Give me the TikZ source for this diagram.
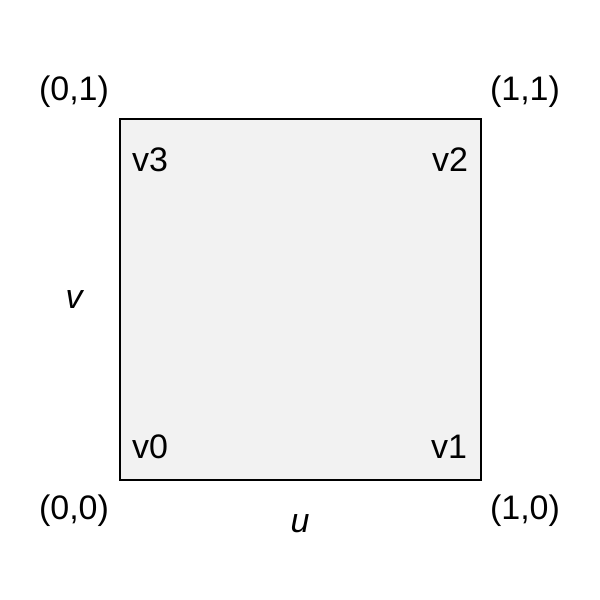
\documentclass[tikz,border=0pt]{standalone}
\usepackage{fontspec}
\setmainfont{Liberation Sans}
\definecolor{patchfill}{HTML}{F2F2F2}
\begin{document}
\begin{tikzpicture}[x=1pt,y=-1pt,
  lbl/.style={font=\fontsize{34}{40}\selectfont, inner sep=0pt, anchor=center},
  axis/.style={font=\fontsize{34}{40}\selectfont\itshape, inner sep=0pt, anchor=center}]
\useasboundingbox (0,0) rectangle (600,600);
\fill[white] (0,0) rectangle (600,600);
\draw[fill=patchfill, line width=1.5pt] (120,119) rectangle (481,480);
\node[lbl] (c01) at (74,92) {(0,1)};
\node[lbl] (c11) at (525,92) {(1,1)};
\node[lbl] (c00) at (74,511) {(0,0)};
\node[lbl] (c10) at (525,511) {(1,0)};
\node[lbl] (v3) at (150,160) {v3};
\node[lbl] (v2) at (450,160) {v2};
\node[lbl] (v0) at (150,447) {v0};
\node[lbl] (v1) at (449,447) {v1};
\node[axis] (av) at (74,300) {v};
\node[axis] (au) at (300,524) {u};
\end{tikzpicture}
\end{document}
